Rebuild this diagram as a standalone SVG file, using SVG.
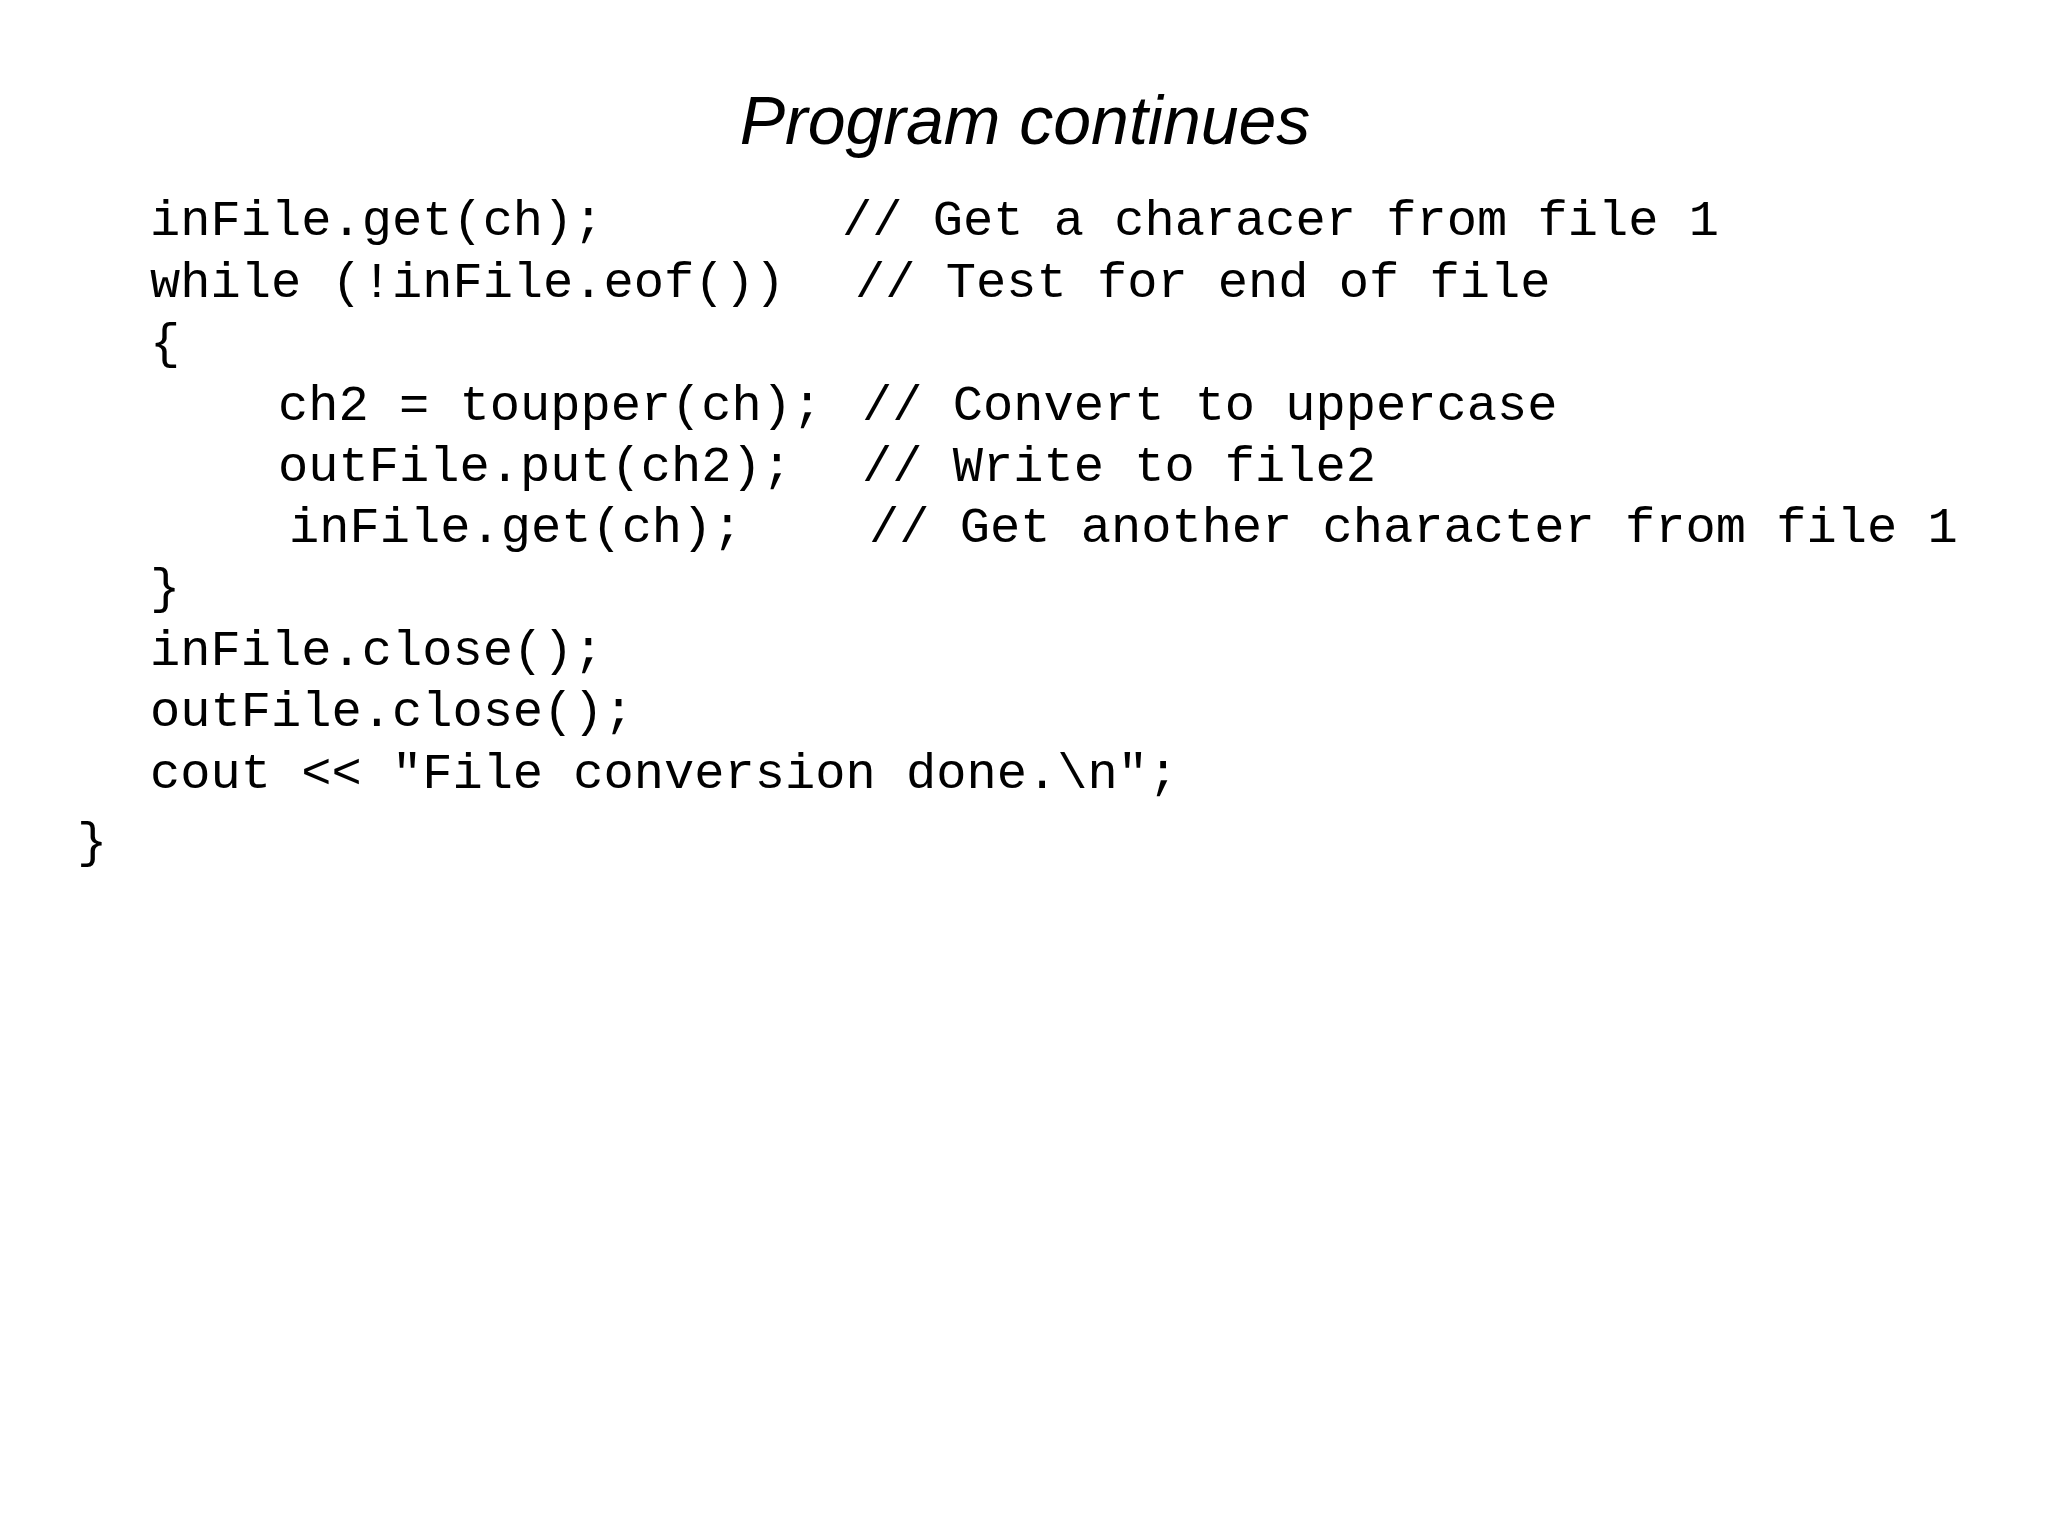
<svg xmlns="http://www.w3.org/2000/svg" width="2048" height="1536" viewBox="0 0 2048 1536">
<style>
.t{font-family:"Liberation Sans",Arial,sans-serif;font-style:italic;font-size:68px;fill:#000}
.c{font-family:"Liberation Mono","Courier New",monospace;font-size:50.4px;fill:#000}
</style>
<rect width="2048" height="1536" fill="#fff"/>
<text class="t" x="1025" y="144" text-anchor="middle">Program continues</text>
<g id="code">
<text class="c" x="150" y="235">inFile.get(ch);</text><text class="c" x="842" y="235">// Get a characer from file 1</text>
<text class="c" x="150" y="297">while (!inFile.eof())</text><text class="c" x="855" y="297">// Test for end of file</text>
<text class="c" x="150" y="358">{</text>
<text class="c" x="278" y="420">ch2 = toupper(ch);</text><text class="c" x="862" y="420">// Convert to uppercase</text>
<text class="c" x="278" y="481">outFile.put(ch2);</text><text class="c" x="862" y="481">// Write to file2</text>
<text class="c" x="289" y="542">inFile.get(ch);</text><text class="c" x="869" y="542">// Get another character from file 1</text>
<text class="c" x="150" y="603">}</text>
<text class="c" x="150" y="665">inFile.close();</text>
<text class="c" x="150" y="726">outFile.close();</text>
<text class="c" x="150" y="788">cout &lt;&lt; "File conversion done.\n";</text>
<text class="c" x="77" y="857">}</text>
</g>
</svg>
